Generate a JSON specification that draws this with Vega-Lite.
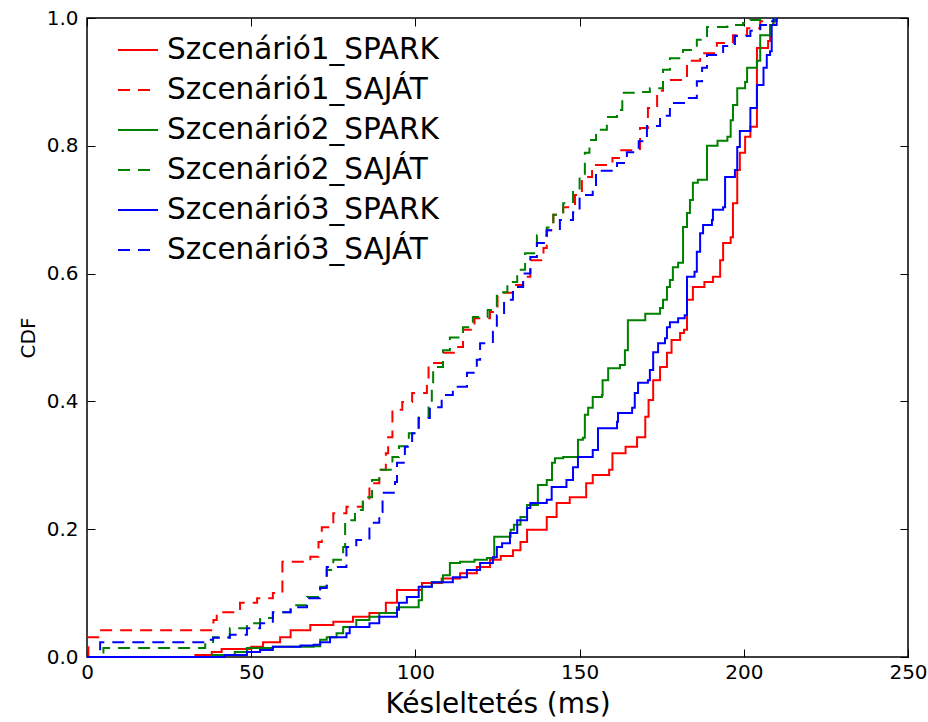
{
  "$schema": "https://vega.github.io/schema/vega-lite/v6.json",
  "autosize": {"type": "none"},
  "padding": {"left": 87, "top": 18, "right": 20, "bottom": 65},
  "width": 821,
  "height": 639,
  "config": {
    "font": "DejaVu Sans",
    "view": {"stroke": "black", "strokeWidth": 1.5},
    "axis": {"grid": false, "domain": false, "tickColor": "black", "tickSize": -8, "tickWidth": 1, "labelFlush": false, "labelColor": "black", "titleColor": "black", "labelFont": "DejaVu Sans", "titleFont": "DejaVu Sans", "titleFontWeight": "normal"}
  },
  "datasets": {
    "cdf": [
      {"s":"Szcenárió1_SPARK","x":0,"y":0},{"s":"Szcenárió1_SPARK","x":33,"y":0.003},{"s":"Szcenárió1_SPARK","x":38,"y":0.008},{"s":"Szcenárió1_SPARK","x":41,"y":0.0125},{"s":"Szcenárió1_SPARK","x":50,"y":0.016},{"s":"Szcenárió1_SPARK","x":53.6,"y":0.023},{"s":"Szcenárió1_SPARK","x":58.8,"y":0.031},{"s":"Szcenárió1_SPARK","x":62,"y":0.042},{"s":"Szcenárió1_SPARK","x":68,"y":0.05},{"s":"Szcenárió1_SPARK","x":75,"y":0.055},{"s":"Szcenárió1_SPARK","x":81,"y":0.063},{"s":"Szcenárió1_SPARK","x":86,"y":0.069},{"s":"Szcenárió1_SPARK","x":91,"y":0.085},{"s":"Szcenárió1_SPARK","x":94.4,"y":0.105},{"s":"Szcenárió1_SPARK","x":102,"y":0.116},{"s":"Szcenárió1_SPARK","x":108,"y":0.123},{"s":"Szcenárió1_SPARK","x":113.6,"y":0.131},{"s":"Szcenárió1_SPARK","x":118.7,"y":0.141},{"s":"Szcenárió1_SPARK","x":122.7,"y":0.152},{"s":"Szcenárió1_SPARK","x":126,"y":0.158},{"s":"Szcenárió1_SPARK","x":129.7,"y":0.167},{"s":"Szcenárió1_SPARK","x":132,"y":0.18},{"s":"Szcenárió1_SPARK","x":134,"y":0.199},{"s":"Szcenárió1_SPARK","x":140,"y":0.219},{"s":"Szcenárió1_SPARK","x":143,"y":0.241},{"s":"Szcenárió1_SPARK","x":147,"y":0.25},{"s":"Szcenárió1_SPARK","x":152,"y":0.272},{"s":"Szcenárió1_SPARK","x":154,"y":0.285},{"s":"Szcenárió1_SPARK","x":159,"y":0.293},{"s":"Szcenárió1_SPARK","x":160,"y":0.319},{"s":"Szcenárió1_SPARK","x":164,"y":0.329},{"s":"Szcenárió1_SPARK","x":167.5,"y":0.344},{"s":"Szcenárió1_SPARK","x":170,"y":0.376},{"s":"Szcenárió1_SPARK","x":171,"y":0.402},{"s":"Szcenárió1_SPARK","x":172.4,"y":0.433},{"s":"Szcenárió1_SPARK","x":174.5,"y":0.454},{"s":"Szcenárió1_SPARK","x":176.6,"y":0.476},{"s":"Szcenárió1_SPARK","x":178,"y":0.496},{"s":"Szcenárió1_SPARK","x":180.6,"y":0.507},{"s":"Szcenárió1_SPARK","x":181.8,"y":0.512},{"s":"Szcenárió1_SPARK","x":182.7,"y":0.559},{"s":"Szcenárió1_SPARK","x":184.5,"y":0.579},{"s":"Szcenárió1_SPARK","x":188,"y":0.587},{"s":"Szcenárió1_SPARK","x":190.6,"y":0.595},{"s":"Szcenárió1_SPARK","x":192.8,"y":0.621},{"s":"Szcenárió1_SPARK","x":193.7,"y":0.648},{"s":"Szcenárió1_SPARK","x":196,"y":0.657},{"s":"Szcenárió1_SPARK","x":196.7,"y":0.71},{"s":"Szcenárió1_SPARK","x":198,"y":0.762},{"s":"Szcenárió1_SPARK","x":198.8,"y":0.789},{"s":"Szcenárió1_SPARK","x":200.4,"y":0.814},{"s":"Szcenárió1_SPARK","x":202,"y":0.83},{"s":"Szcenárió1_SPARK","x":204,"y":0.953},{"s":"Szcenárió1_SPARK","x":207.4,"y":0.964},{"s":"Szcenárió1_SPARK","x":208,"y":0.989},{"s":"Szcenárió1_SPARK","x":209,"y":0.995},{"s":"Szcenárió1_SPARK","x":210,"y":1.0},

      {"s":"Szcenárió1_SAJÁT","x":0,"y":0},{"s":"Szcenárió1_SAJÁT","x":0.4,"y":0.031},{"s":"Szcenárió1_SAJÁT","x":4,"y":0.042},{"s":"Szcenárió1_SAJÁT","x":38.5,"y":0.058},{"s":"Szcenárió1_SAJÁT","x":39.5,"y":0.07},{"s":"Szcenárió1_SAJÁT","x":46.6,"y":0.085},{"s":"Szcenárió1_SAJÁT","x":51.8,"y":0.092},{"s":"Szcenárió1_SAJÁT","x":56.6,"y":0.1},{"s":"Szcenárió1_SAJÁT","x":59.5,"y":0.149},{"s":"Szcenárió1_SAJÁT","x":68,"y":0.157},{"s":"Szcenárió1_SAJÁT","x":70.5,"y":0.18},{"s":"Szcenárió1_SAJÁT","x":71.5,"y":0.203},{"s":"Szcenárió1_SAJÁT","x":75,"y":0.225},{"s":"Szcenárió1_SAJÁT","x":79,"y":0.235},{"s":"Szcenárió1_SAJÁT","x":84,"y":0.246},{"s":"Szcenárió1_SAJÁT","x":86,"y":0.272},{"s":"Szcenárió1_SAJÁT","x":89,"y":0.293},{"s":"Szcenárió1_SAJÁT","x":91,"y":0.319},{"s":"Szcenárió1_SAJÁT","x":91.7,"y":0.344},{"s":"Szcenárió1_SAJÁT","x":93,"y":0.387},{"s":"Szcenárió1_SAJÁT","x":96,"y":0.399},{"s":"Szcenárió1_SAJÁT","x":99,"y":0.413},{"s":"Szcenárió1_SAJÁT","x":103.5,"y":0.433},{"s":"Szcenárió1_SAJÁT","x":104,"y":0.46},{"s":"Szcenárió1_SAJÁT","x":108.4,"y":0.476},{"s":"Szcenárió1_SAJÁT","x":113,"y":0.485},{"s":"Szcenárió1_SAJÁT","x":114.5,"y":0.512},{"s":"Szcenárió1_SAJÁT","x":118,"y":0.53},{"s":"Szcenárió1_SAJÁT","x":122.7,"y":0.54},{"s":"Szcenárió1_SAJÁT","x":125,"y":0.57},{"s":"Szcenárió1_SAJÁT","x":129.7,"y":0.582},{"s":"Szcenárió1_SAJÁT","x":132.8,"y":0.595},{"s":"Szcenárió1_SAJÁT","x":135,"y":0.621},{"s":"Szcenárió1_SAJÁT","x":139,"y":0.64},{"s":"Szcenárió1_SAJÁT","x":140,"y":0.668},{"s":"Szcenárió1_SAJÁT","x":142,"y":0.692},{"s":"Szcenárió1_SAJÁT","x":145,"y":0.704},{"s":"Szcenárió1_SAJÁT","x":148.6,"y":0.723},{"s":"Szcenárió1_SAJÁT","x":150.7,"y":0.751},{"s":"Szcenárió1_SAJÁT","x":153.8,"y":0.77},{"s":"Szcenárió1_SAJÁT","x":160,"y":0.781},{"s":"Szcenárió1_SAJÁT","x":162.3,"y":0.793},{"s":"Szcenárió1_SAJÁT","x":168.4,"y":0.828},{"s":"Szcenárió1_SAJÁT","x":170.8,"y":0.859},{"s":"Szcenárió1_SAJÁT","x":173.6,"y":0.886},{"s":"Szcenárió1_SAJÁT","x":175.4,"y":0.903},{"s":"Szcenárió1_SAJÁT","x":181.5,"y":0.906},{"s":"Szcenárió1_SAJÁT","x":182.7,"y":0.933},{"s":"Szcenárió1_SAJÁT","x":186.7,"y":0.945},{"s":"Szcenárió1_SAJÁT","x":191.8,"y":0.961},{"s":"Szcenárió1_SAJÁT","x":196.7,"y":0.973},{"s":"Szcenárió1_SAJÁT","x":201,"y":0.984},{"s":"Szcenárió1_SAJÁT","x":205,"y":0.995},{"s":"Szcenárió1_SAJÁT","x":206,"y":1.0},

      {"s":"Szcenárió2_SPARK","x":0,"y":0},{"s":"Szcenárió2_SPARK","x":38,"y":0.003},{"s":"Szcenárió2_SPARK","x":45,"y":0.008},{"s":"Szcenárió2_SPARK","x":48.7,"y":0.014},{"s":"Szcenárió2_SPARK","x":56.6,"y":0.016},{"s":"Szcenárió2_SPARK","x":69,"y":0.017},{"s":"Szcenárió2_SPARK","x":71,"y":0.027},{"s":"Szcenárió2_SPARK","x":73,"y":0.031},{"s":"Szcenárió2_SPARK","x":76,"y":0.037},{"s":"Szcenárió2_SPARK","x":78,"y":0.047},{"s":"Szcenárió2_SPARK","x":82,"y":0.058},{"s":"Szcenárió2_SPARK","x":86,"y":0.063},{"s":"Szcenárió2_SPARK","x":89,"y":0.069},{"s":"Szcenárió2_SPARK","x":94.4,"y":0.078},{"s":"Szcenárió2_SPARK","x":101,"y":0.089},{"s":"Szcenárió2_SPARK","x":102,"y":0.11},{"s":"Szcenárió2_SPARK","x":105,"y":0.117},{"s":"Szcenárió2_SPARK","x":108.4,"y":0.128},{"s":"Szcenárió2_SPARK","x":110.5,"y":0.147},{"s":"Szcenárió2_SPARK","x":113.6,"y":0.149},{"s":"Szcenárió2_SPARK","x":118,"y":0.152},{"s":"Szcenárió2_SPARK","x":121.8,"y":0.155},{"s":"Szcenárió2_SPARK","x":124,"y":0.188},{"s":"Szcenárió2_SPARK","x":129,"y":0.199},{"s":"Szcenárió2_SPARK","x":130,"y":0.207},{"s":"Szcenárió2_SPARK","x":132,"y":0.219},{"s":"Szcenárió2_SPARK","x":134,"y":0.238},{"s":"Szcenárió2_SPARK","x":137.3,"y":0.269},{"s":"Szcenárió2_SPARK","x":140,"y":0.277},{"s":"Szcenárió2_SPARK","x":141.6,"y":0.304},{"s":"Szcenárió2_SPARK","x":142.5,"y":0.311},{"s":"Szcenárió2_SPARK","x":145,"y":0.313},{"s":"Szcenárió2_SPARK","x":149.5,"y":0.34},{"s":"Szcenárió2_SPARK","x":151,"y":0.343},{"s":"Szcenárió2_SPARK","x":151.6,"y":0.379},{"s":"Szcenárió2_SPARK","x":152.6,"y":0.39},{"s":"Szcenárió2_SPARK","x":154,"y":0.407},{"s":"Szcenárió2_SPARK","x":156.8,"y":0.41},{"s":"Szcenárió2_SPARK","x":157,"y":0.433},{"s":"Szcenárió2_SPARK","x":158.7,"y":0.452},{"s":"Szcenárió2_SPARK","x":162.3,"y":0.457},{"s":"Szcenárió2_SPARK","x":163.8,"y":0.48},{"s":"Szcenárió2_SPARK","x":164.7,"y":0.527},{"s":"Szcenárió2_SPARK","x":170,"y":0.537},{"s":"Szcenárió2_SPARK","x":174.5,"y":0.546},{"s":"Szcenárió2_SPARK","x":175.4,"y":0.559},{"s":"Szcenárió2_SPARK","x":176.6,"y":0.579},{"s":"Szcenárió2_SPARK","x":177.5,"y":0.59},{"s":"Szcenárió2_SPARK","x":178.4,"y":0.61},{"s":"Szcenárió2_SPARK","x":180,"y":0.617},{"s":"Szcenárió2_SPARK","x":181.5,"y":0.673},{"s":"Szcenárió2_SPARK","x":182.7,"y":0.695},{"s":"Szcenárió2_SPARK","x":183.6,"y":0.715},{"s":"Szcenárió2_SPARK","x":184.5,"y":0.742},{"s":"Szcenárió2_SPARK","x":186,"y":0.747},{"s":"Szcenárió2_SPARK","x":188.8,"y":0.8},{"s":"Szcenárió2_SPARK","x":192,"y":0.808},{"s":"Szcenárió2_SPARK","x":195,"y":0.814},{"s":"Szcenárió2_SPARK","x":196,"y":0.84},{"s":"Szcenárió2_SPARK","x":196.7,"y":0.864},{"s":"Szcenárió2_SPARK","x":198,"y":0.89},{"s":"Szcenárió2_SPARK","x":200.4,"y":0.9},{"s":"Szcenárió2_SPARK","x":201,"y":0.922},{"s":"Szcenárió2_SPARK","x":204,"y":0.933},{"s":"Szcenárió2_SPARK","x":205,"y":0.973},{"s":"Szcenárió2_SPARK","x":208,"y":0.989},{"s":"Szcenárió2_SPARK","x":209,"y":0.995},{"s":"Szcenárió2_SPARK","x":209.5,"y":1.0},

      {"s":"Szcenárió2_SAJÁT","x":0,"y":0},{"s":"Szcenárió2_SAJÁT","x":5,"y":0.014},{"s":"Szcenárió2_SAJÁT","x":36,"y":0.02},{"s":"Szcenárió2_SAJÁT","x":38.4,"y":0.031},{"s":"Szcenárió2_SAJÁT","x":43.5,"y":0.045},{"s":"Szcenárió2_SAJÁT","x":48.7,"y":0.053},{"s":"Szcenárió2_SAJÁT","x":52.7,"y":0.061},{"s":"Szcenárió2_SAJÁT","x":56.6,"y":0.07},{"s":"Szcenárió2_SAJÁT","x":62,"y":0.081},{"s":"Szcenárió2_SAJÁT","x":67,"y":0.094},{"s":"Szcenárió2_SAJÁT","x":71,"y":0.11},{"s":"Szcenárió2_SAJÁT","x":73,"y":0.136},{"s":"Szcenárió2_SAJÁT","x":75,"y":0.152},{"s":"Szcenárió2_SAJÁT","x":78,"y":0.172},{"s":"Szcenárió2_SAJÁT","x":78.6,"y":0.214},{"s":"Szcenárió2_SAJÁT","x":81.6,"y":0.23},{"s":"Szcenárió2_SAJÁT","x":84,"y":0.25},{"s":"Szcenárió2_SAJÁT","x":86.8,"y":0.277},{"s":"Szcenárió2_SAJÁT","x":89,"y":0.293},{"s":"Szcenárió2_SAJÁT","x":93,"y":0.313},{"s":"Szcenárió2_SAJÁT","x":95,"y":0.33},{"s":"Szcenárió2_SAJÁT","x":98,"y":0.35},{"s":"Szcenárió2_SAJÁT","x":101,"y":0.375},{"s":"Szcenárió2_SAJÁT","x":104,"y":0.395},{"s":"Szcenárió2_SAJÁT","x":105,"y":0.426},{"s":"Szcenárió2_SAJÁT","x":105.4,"y":0.454},{"s":"Szcenárió2_SAJÁT","x":108.4,"y":0.48},{"s":"Szcenárió2_SAJÁT","x":110.5,"y":0.5},{"s":"Szcenárió2_SAJÁT","x":114.5,"y":0.516},{"s":"Szcenárió2_SAJÁT","x":117.5,"y":0.532},{"s":"Szcenárió2_SAJÁT","x":122,"y":0.543},{"s":"Szcenárió2_SAJÁT","x":124.8,"y":0.571},{"s":"Szcenárió2_SAJÁT","x":128,"y":0.587},{"s":"Szcenárió2_SAJÁT","x":131,"y":0.606},{"s":"Szcenárió2_SAJÁT","x":133.4,"y":0.632},{"s":"Szcenárió2_SAJÁT","x":137,"y":0.66},{"s":"Szcenárió2_SAJÁT","x":140,"y":0.672},{"s":"Szcenárió2_SAJÁT","x":142,"y":0.692},{"s":"Szcenárió2_SAJÁT","x":145,"y":0.71},{"s":"Szcenárió2_SAJÁT","x":148,"y":0.73},{"s":"Szcenárió2_SAJÁT","x":150,"y":0.751},{"s":"Szcenárió2_SAJÁT","x":151.6,"y":0.789},{"s":"Szcenárió2_SAJÁT","x":153,"y":0.809},{"s":"Szcenárió2_SAJÁT","x":155,"y":0.825},{"s":"Szcenárió2_SAJÁT","x":158.3,"y":0.845},{"s":"Szcenárió2_SAJÁT","x":161.4,"y":0.856},{"s":"Szcenárió2_SAJÁT","x":163,"y":0.883},{"s":"Szcenárió2_SAJÁT","x":167.5,"y":0.884},{"s":"Szcenárió2_SAJÁT","x":171.4,"y":0.89},{"s":"Szcenárió2_SAJÁT","x":175.4,"y":0.919},{"s":"Szcenárió2_SAJÁT","x":177.5,"y":0.937},{"s":"Szcenárió2_SAJÁT","x":181.5,"y":0.95},{"s":"Szcenárió2_SAJÁT","x":185.7,"y":0.966},{"s":"Szcenárió2_SAJÁT","x":188.8,"y":0.986},{"s":"Szcenárió2_SAJÁT","x":195,"y":0.989},{"s":"Szcenárió2_SAJÁT","x":199.8,"y":0.992},{"s":"Szcenárió2_SAJÁT","x":202,"y":0.997},{"s":"Szcenárió2_SAJÁT","x":205,"y":1.0},

      {"s":"Szcenárió3_SPARK","x":0,"y":0},{"s":"Szcenárió3_SPARK","x":42,"y":0.003},{"s":"Szcenárió3_SPARK","x":48.7,"y":0.008},{"s":"Szcenárió3_SPARK","x":52.7,"y":0.011},{"s":"Szcenárió3_SPARK","x":56.6,"y":0.016},{"s":"Szcenárió3_SPARK","x":65,"y":0.018},{"s":"Szcenárió3_SPARK","x":69,"y":0.019},{"s":"Szcenárió3_SPARK","x":71,"y":0.023},{"s":"Szcenárió3_SPARK","x":74,"y":0.031},{"s":"Szcenárió3_SPARK","x":79,"y":0.037},{"s":"Szcenárió3_SPARK","x":80,"y":0.047},{"s":"Szcenárió3_SPARK","x":86,"y":0.053},{"s":"Szcenárió3_SPARK","x":89,"y":0.063},{"s":"Szcenárió3_SPARK","x":94.4,"y":0.074},{"s":"Szcenárió3_SPARK","x":95,"y":0.085},{"s":"Szcenárió3_SPARK","x":97.4,"y":0.094},{"s":"Szcenárió3_SPARK","x":101,"y":0.11},{"s":"Szcenárió3_SPARK","x":105,"y":0.117},{"s":"Szcenárió3_SPARK","x":111.4,"y":0.125},{"s":"Szcenárió3_SPARK","x":115.7,"y":0.136},{"s":"Szcenárió3_SPARK","x":119.7,"y":0.147},{"s":"Szcenárió3_SPARK","x":123.6,"y":0.156},{"s":"Szcenárió3_SPARK","x":124.8,"y":0.172},{"s":"Szcenárió3_SPARK","x":126.4,"y":0.178},{"s":"Szcenárió3_SPARK","x":128.8,"y":0.194},{"s":"Szcenárió3_SPARK","x":131,"y":0.214},{"s":"Szcenárió3_SPARK","x":134,"y":0.233},{"s":"Szcenárió3_SPARK","x":135,"y":0.241},{"s":"Szcenárió3_SPARK","x":140,"y":0.246},{"s":"Szcenárió3_SPARK","x":141.5,"y":0.266},{"s":"Szcenárió3_SPARK","x":146,"y":0.277},{"s":"Szcenárió3_SPARK","x":148,"y":0.297},{"s":"Szcenárió3_SPARK","x":149.5,"y":0.313},{"s":"Szcenárió3_SPARK","x":154,"y":0.324},{"s":"Szcenárió3_SPARK","x":155.6,"y":0.358},{"s":"Szcenárió3_SPARK","x":161.4,"y":0.368},{"s":"Szcenárió3_SPARK","x":161.7,"y":0.382},{"s":"Szcenárió3_SPARK","x":166,"y":0.39},{"s":"Szcenárió3_SPARK","x":166.8,"y":0.413},{"s":"Szcenárió3_SPARK","x":167.8,"y":0.429},{"s":"Szcenárió3_SPARK","x":170.8,"y":0.433},{"s":"Szcenárió3_SPARK","x":171.4,"y":0.449},{"s":"Szcenárió3_SPARK","x":172.4,"y":0.477},{"s":"Szcenárió3_SPARK","x":173.9,"y":0.491},{"s":"Szcenárió3_SPARK","x":176,"y":0.499},{"s":"Szcenárió3_SPARK","x":176.6,"y":0.516},{"s":"Szcenárió3_SPARK","x":177.5,"y":0.524},{"s":"Szcenárió3_SPARK","x":180,"y":0.53},{"s":"Szcenárió3_SPARK","x":182,"y":0.535},{"s":"Szcenárió3_SPARK","x":182.7,"y":0.595},{"s":"Szcenárió3_SPARK","x":185,"y":0.603},{"s":"Szcenárió3_SPARK","x":185.7,"y":0.634},{"s":"Szcenárió3_SPARK","x":186.7,"y":0.663},{"s":"Szcenárió3_SPARK","x":187.6,"y":0.676},{"s":"Szcenárió3_SPARK","x":190.3,"y":0.684},{"s":"Szcenárió3_SPARK","x":190.6,"y":0.7},{"s":"Szcenárió3_SPARK","x":193.7,"y":0.704},{"s":"Szcenárió3_SPARK","x":194.3,"y":0.751},{"s":"Szcenárió3_SPARK","x":197.3,"y":0.762},{"s":"Szcenárió3_SPARK","x":198,"y":0.798},{"s":"Szcenárió3_SPARK","x":198.8,"y":0.823},{"s":"Szcenárió3_SPARK","x":202,"y":0.859},{"s":"Szcenárió3_SPARK","x":204,"y":0.895},{"s":"Szcenárió3_SPARK","x":206,"y":0.922},{"s":"Szcenárió3_SPARK","x":207,"y":0.942},{"s":"Szcenárió3_SPARK","x":208,"y":0.948},{"s":"Szcenárió3_SPARK","x":208.5,"y":0.989},{"s":"Szcenárió3_SPARK","x":210,"y":1.0},

      {"s":"Szcenárió3_SAJÁT","x":0,"y":0},{"s":"Szcenárió3_SAJÁT","x":4,"y":0.023},{"s":"Szcenárió3_SAJÁT","x":36.5,"y":0.027},{"s":"Szcenárió3_SAJÁT","x":38.4,"y":0.03},{"s":"Szcenárió3_SAJÁT","x":43.5,"y":0.035},{"s":"Szcenárió3_SAJÁT","x":48.7,"y":0.045},{"s":"Szcenárió3_SAJÁT","x":52.7,"y":0.053},{"s":"Szcenárió3_SAJÁT","x":56.6,"y":0.07},{"s":"Szcenárió3_SAJÁT","x":62,"y":0.078},{"s":"Szcenárió3_SAJÁT","x":67,"y":0.092},{"s":"Szcenárió3_SAJÁT","x":71,"y":0.108},{"s":"Szcenárió3_SAJÁT","x":73,"y":0.141},{"s":"Szcenárió3_SAJÁT","x":79,"y":0.172},{"s":"Szcenárió3_SAJÁT","x":82,"y":0.183},{"s":"Szcenárió3_SAJÁT","x":86,"y":0.21},{"s":"Szcenárió3_SAJÁT","x":89,"y":0.227},{"s":"Szcenárió3_SAJÁT","x":90,"y":0.257},{"s":"Szcenárió3_SAJÁT","x":93.8,"y":0.274},{"s":"Szcenárió3_SAJÁT","x":94.4,"y":0.304},{"s":"Szcenárió3_SAJÁT","x":96.8,"y":0.329},{"s":"Szcenárió3_SAJÁT","x":99,"y":0.35},{"s":"Szcenárió3_SAJÁT","x":101,"y":0.374},{"s":"Szcenárió3_SAJÁT","x":104.4,"y":0.391},{"s":"Szcenárió3_SAJÁT","x":108,"y":0.41},{"s":"Szcenárió3_SAJÁT","x":111.4,"y":0.423},{"s":"Szcenárió3_SAJÁT","x":115.7,"y":0.445},{"s":"Szcenárió3_SAJÁT","x":118.7,"y":0.465},{"s":"Szcenárió3_SAJÁT","x":119.7,"y":0.491},{"s":"Szcenárió3_SAJÁT","x":123.6,"y":0.509},{"s":"Szcenárió3_SAJÁT","x":124.8,"y":0.535},{"s":"Szcenárió3_SAJÁT","x":127,"y":0.559},{"s":"Szcenárió3_SAJÁT","x":129.7,"y":0.579},{"s":"Szcenárió3_SAJÁT","x":132.8,"y":0.6},{"s":"Szcenárió3_SAJÁT","x":135,"y":0.626},{"s":"Szcenárió3_SAJÁT","x":137,"y":0.648},{"s":"Szcenárió3_SAJÁT","x":140,"y":0.668},{"s":"Szcenárió3_SAJÁT","x":144,"y":0.684},{"s":"Szcenárió3_SAJÁT","x":148,"y":0.696},{"s":"Szcenárió3_SAJÁT","x":150,"y":0.723},{"s":"Szcenárió3_SAJÁT","x":154,"y":0.736},{"s":"Szcenárió3_SAJÁT","x":155,"y":0.761},{"s":"Szcenárió3_SAJÁT","x":161.4,"y":0.773},{"s":"Szcenárió3_SAJÁT","x":164.4,"y":0.79},{"s":"Szcenárió3_SAJÁT","x":168,"y":0.807},{"s":"Szcenárió3_SAJÁT","x":170.5,"y":0.831},{"s":"Szcenárió3_SAJÁT","x":174.5,"y":0.847},{"s":"Szcenárió3_SAJÁT","x":177.5,"y":0.867},{"s":"Szcenárió3_SAJÁT","x":182.7,"y":0.875},{"s":"Szcenárió3_SAJÁT","x":185.7,"y":0.901},{"s":"Szcenárió3_SAJÁT","x":187.3,"y":0.922},{"s":"Szcenárió3_SAJÁT","x":188.8,"y":0.942},{"s":"Szcenárió3_SAJÁT","x":193.7,"y":0.956},{"s":"Szcenárió3_SAJÁT","x":197.3,"y":0.972},{"s":"Szcenárió3_SAJÁT","x":202,"y":0.98},{"s":"Szcenárió3_SAJÁT","x":205,"y":0.989},{"s":"Szcenárió3_SAJÁT","x":208,"y":0.995},{"s":"Szcenárió3_SAJÁT","x":209,"y":1.0}
    ]
  },
  "data": {"name": "cdf"},
  "layer": [
    {
      "mark": {"type": "line", "interpolate": "step-after", "strokeWidth": 2},
      "encoding": {
        "x": {"field": "x", "type": "quantitative", "scale": {"domain": [0, 250], "nice": false, "zero": false},
              "axis": {"orient": "bottom", "values": [0, 50, 100, 150, 200, 250], "labelFontSize": 20, "labelPadding": 13, "title": "Késleltetés (ms)", "titleFontSize": 28, "titlePadding": 8}},
        "y": {"field": "y", "type": "quantitative", "scale": {"domain": [0, 1], "nice": false},
              "axis": {"orient": "left", "values": [0, 0.2, 0.4, 0.6, 0.8, 1.0], "format": ".1f", "labelFontSize": 20, "labelPadding": 17, "title": "CDF", "titleFontSize": 20, "titlePadding": 8}},
        "color": {"field": "s", "type": "nominal", "title": null,
                  "scale": {"domain": ["Szcenárió1_SPARK", "Szcenárió1_SAJÁT", "Szcenárió2_SPARK", "Szcenárió2_SAJÁT", "Szcenárió3_SPARK", "Szcenárió3_SAJÁT"],
                            "range": ["#ff0000", "#ff0000", "#008000", "#008000", "#0000ff", "#0000ff"]},
                  "legend": {"orient": "none", "legendX": 30, "legendY": 11, "symbolType": "stroke", "symbolSize": 1600, "symbolStrokeWidth": 2, "labelFontSize": 29.5, "labelFont": "DejaVu Sans", "labelColor": "black", "labelOffset": 8, "rowPadding": 4, "padding": 0, "labelLimit": 500}},
        "strokeDash": {"field": "s", "type": "nominal", "title": null,
                  "scale": {"domain": ["Szcenárió1_SPARK", "Szcenárió1_SAJÁT", "Szcenárió2_SPARK", "Szcenárió2_SAJÁT", "Szcenárió3_SPARK", "Szcenárió3_SAJÁT"],
                            "range": [[1, 0], [12, 8], [1, 0], [12, 8], [1, 0], [12, 8]]},
                  "legend": {"orient": "none", "legendX": 30, "legendY": 11, "symbolType": "stroke", "symbolSize": 1600, "symbolStrokeWidth": 2, "labelFontSize": 29.5, "labelFont": "DejaVu Sans", "labelColor": "black", "labelOffset": 8, "rowPadding": 4, "padding": 0, "labelLimit": 500}}
      }
    },
    {
      "mark": {"type": "point", "opacity": 0},
      "encoding": {
        "x": {"field": "x", "type": "quantitative", "axis": {"orient": "top", "values": [0, 50, 100, 150, 200, 250], "labels": false, "title": null}},
        "y": {"field": "y", "type": "quantitative", "axis": {"orient": "right", "values": [0, 0.2, 0.4, 0.6, 0.8, 1.0], "labels": false, "title": null}}
      }
    }
  ],
  "resolve": {"axis": {"x": "independent", "y": "independent"}}
}
